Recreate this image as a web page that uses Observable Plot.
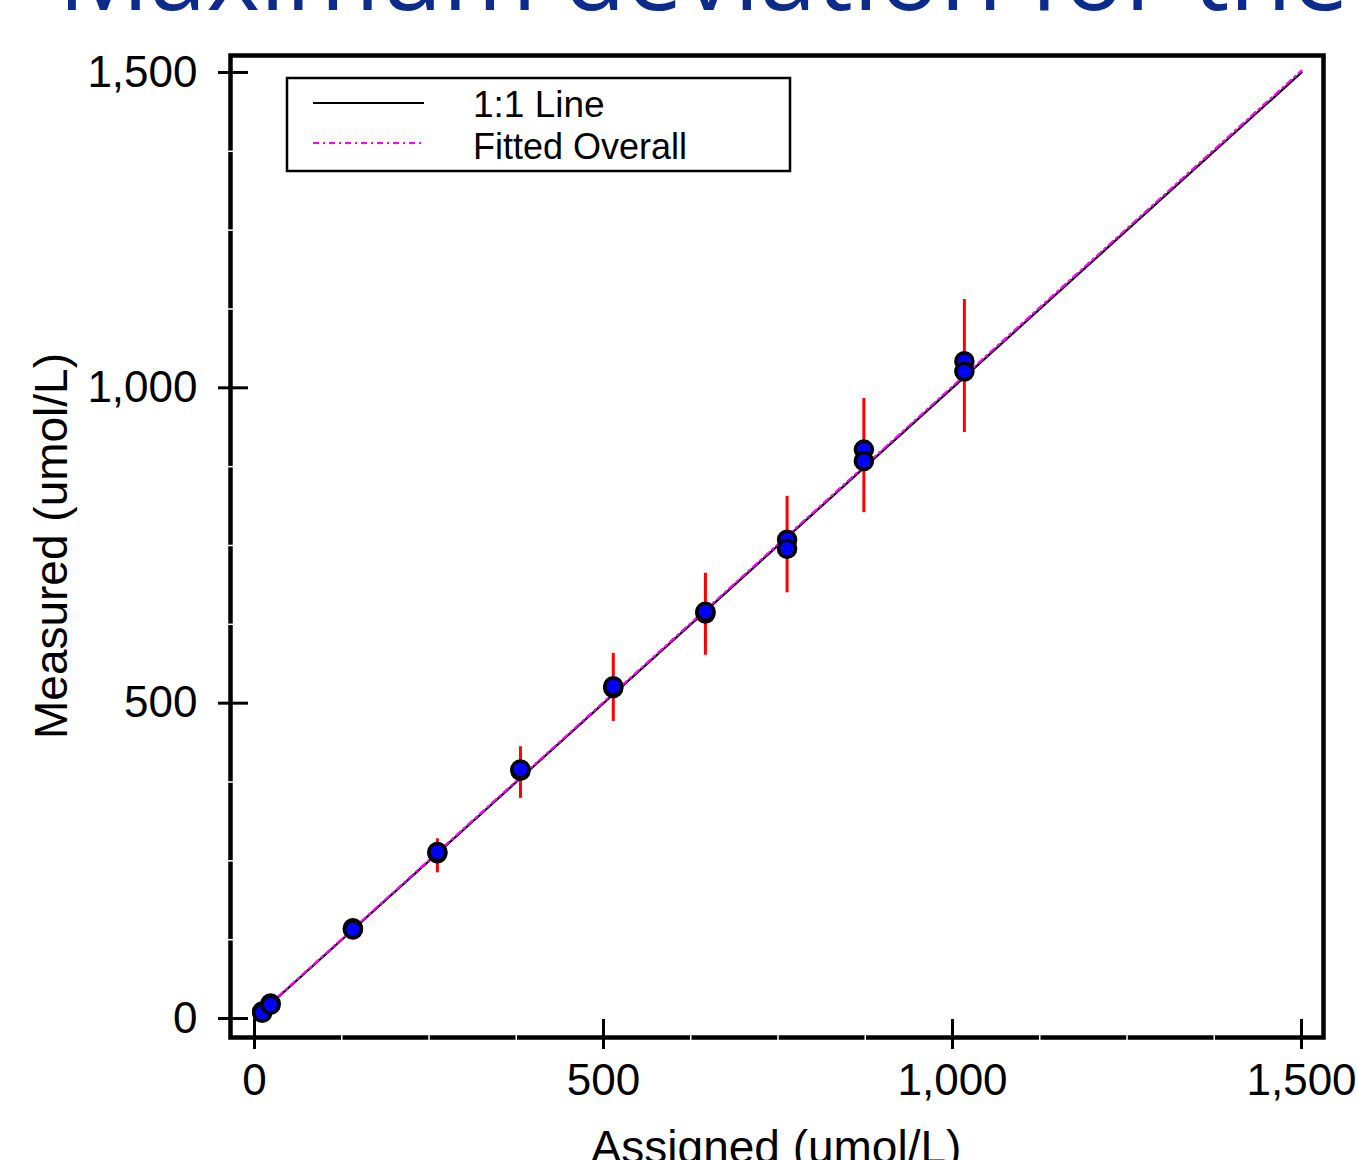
<!DOCTYPE html>
<html>
<head>
<meta charset="utf-8">
<script src="https://cdn.jsdelivr.net/npm/d3@7"></script>
<script src="https://cdn.jsdelivr.net/npm/@observablehq/plot@0.6"></script>
<style>
  html, body { margin: 0; padding: 0; background: #fff; }
  #chart { width: 1357px; height: 1160px; overflow: hidden; position: relative; }
</style>
</head>
<body>
<div id="chart"></div>
<script>
// ---- Data ----
const titleText = "Maximum deviation for the";
const xLabel = "Assigned (umol/L)";
const yLabel = "Measured (umol/L)";
const legendLabels = ["1:1 Line", "Fitted Overall"];

const xTicks = [0, 500, 1000, 1500];
const yTicks = [0, 500, 1000, 1500];
const minorTicks = [125, 250, 375, 625, 750, 875, 1125, 1250, 1375];

const assignedLevels = [11, 23, 141, 262, 381, 514, 646, 763, 873, 1017];
const measuredRepA   = [11, 24, 143, 262, 393, 524, 642, 759, 902, 1042];
const measuredRepB   = [9, 22, 141, 264, 395, 527, 645, 745, 884, 1026];
const barLow         = [null, null, 130, 231, 349, 471, 576, 675, 802, 929];
const barHigh        = [null, null, 155, 285, 431, 579, 706, 828, 983, 1140];

const lineX     = [0, 1500];
const oneToOneY = [0, 1500];
const fittedY   = [1, 1503];

// ---- Tables built from arrays ----
const points = assignedLevels.flatMap((a, i) => [
  {assigned: a, measured: measuredRepA[i]},
  {assigned: a, measured: measuredRepB[i]}
]);
const bars = assignedLevels.map((a, i) => ({assigned: a, low: barLow[i], high: barHigh[i]}))
  .filter(d => d.low != null);
const oneToOne = lineX.map((x, i) => ({x, y: oneToOneY[i]}));
const fitted = lineX.map((x, i) => ({x, y: fittedY[i]}));

const font = "'Liberation Sans', Arial, sans-serif";
const fmt = d3.format(",");
const blank = () => "";
const fittedDash = "6,4,2,4";

const plot = Plot.plot({
  width: 1357,
  height: 1160,
  marginLeft: 230,
  marginRight: 34,
  marginTop: 55,
  marginBottom: 123,
  style: {fontFamily: font, fontSize: "44px", color: "black", background: "white"},
  x: {domain: [-34.4, 1531.5], label: null},
  y: {domain: [-30.1, 1526.9], label: null},
  marks: [
    // lines
    Plot.line(oneToOne, {x: "x", y: "y", stroke: "black", strokeWidth: 2.2}),
    Plot.line(fitted, {x: "x", y: "y", stroke: "#FF00FF", strokeWidth: 2.2, strokeDasharray: fittedDash}),
    // error bars
    Plot.ruleX(bars, {x: "assigned", y1: "low", y2: "high", stroke: "#FF0000", strokeWidth: 3}),
    // points
    Plot.dot(points, {x: "assigned", y: "measured", r: 8.5, fill: "#0000FF", stroke: "black", strokeWidth: 3.5}),
    // frame
    Plot.frame({stroke: "black", strokeWidth: 4.5}),
    // major ticks (outward with labels, inward without)
    Plot.axisX({ticks: xTicks, tickSize: 12, tickPadding: 14, tickFormat: fmt, strokeWidth: 3, fontSize: 44, fill: "black", label: null}),
    Plot.axisX({ticks: xTicks, tickSize: -18, tickFormat: blank, strokeWidth: 3, label: null}),
    Plot.axisY({ticks: yTicks, tickSize: 12, tickPadding: 21, tickFormat: fmt, strokeWidth: 3, fontSize: 44, fill: "black", label: null}),
    Plot.axisY({ticks: yTicks, tickSize: -18, tickFormat: blank, strokeWidth: 3, label: null}),
    // minor ticks (white notches on the frame)
    Plot.axisX({ticks: minorTicks, tickSize: 3, tickFormat: blank, stroke: "white", strokeWidth: 1.5, label: null}),
    Plot.axisX({ticks: minorTicks, tickSize: -3, tickFormat: blank, stroke: "white", strokeWidth: 1.5, label: null}),
    Plot.axisY({ticks: minorTicks, tickSize: 3, tickFormat: blank, stroke: "white", strokeWidth: 1.5, label: null}),
    Plot.axisY({ticks: minorTicks, tickSize: -3, tickFormat: blank, stroke: "white", strokeWidth: 1.5, label: null})
  ]
});

document.getElementById("chart").appendChild(plot);

const svg = d3.select(plot);

// Title (cut off at top, as in the reference)
svg.append("text")
  .attr("x", 58).attr("y", 10)
  .attr("text-anchor", "start")
  .attr("fill", "#0D2B8A")
  .style("font-family", "'Open Sans', sans-serif")
  .style("font-size", "102px")
  .text(titleText);

// Axis titles
svg.append("text")
  .attr("transform", "translate(67,546) rotate(-90)")
  .attr("text-anchor", "middle")
  .attr("fill", "black")
  .style("font-family", font).style("font-size", "46px")
  .text(yLabel);
svg.append("text")
  .attr("x", 776).attr("y", 1163)
  .attr("text-anchor", "middle")
  .attr("fill", "black")
  .style("font-family", font).style("font-size", "46px")
  .text(xLabel);

// Legend
const lg = svg.append("g");
lg.append("rect").attr("x", 287).attr("y", 78).attr("width", 503).attr("height", 93)
  .attr("fill", "white").attr("stroke", "black").attr("stroke-width", 2.5);
lg.append("line").attr("x1", 313).attr("x2", 424).attr("y1", 103).attr("y2", 103)
  .attr("stroke", "black").attr("stroke-width", 2);
lg.append("line").attr("x1", 313).attr("x2", 424).attr("y1", 143).attr("y2", 143)
  .attr("stroke", "#FF00FF").attr("stroke-width", 2).attr("stroke-dasharray", fittedDash);
lg.append("text").attr("x", 473).attr("y", 117).attr("text-anchor", "start").attr("fill", "black")
  .style("font-family", font).style("font-size", "37px").text(legendLabels[0]);
lg.append("text").attr("x", 473).attr("y", 159).attr("text-anchor", "start").attr("fill", "black")
  .style("font-family", font).style("font-size", "36px").text(legendLabels[1]);
</script>
</body>
</html>
